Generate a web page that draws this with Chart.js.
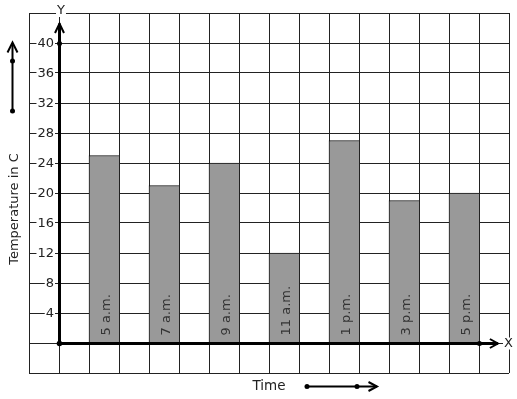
<!DOCTYPE html>
<html>
<head>
<meta charset="utf-8">
<script src="https://cdn.jsdelivr.net/npm/chart.js@4.4.1/dist/chart.umd.min.js"></script>
<style>
  html, body { margin: 0; padding: 0; background: #fff; }
  #wrap { width: 517px; height: 399px; }
</style>
</head>
<body>
<div id="wrap"><canvas id="c" width="517" height="399"></canvas></div>
<script>
// ---- data ----
const categories = ['5 a.m.', '7 a.m.', '9 a.m.', '11 a.m.', '1 p.m.', '3 p.m.', '5 p.m.'];
const temperatures = [25, 21, 24, 12, 27, 19, 20];
const yTickLabels = [4, 8, 12, 16, 20, 24, 28, 32, 36, 40];
const xAxisTitle = 'Time';
const yAxisTitle = 'Temperature in C';

const FONT = '"DejaVu Sans", Verdana, sans-serif';
const INK = '#222';

// bars sit in every other grid column to the right of the Y axis
const barData = categories.map((c, i) => ({ x: 2 * i + 1.5, y: temperatures[i] }));

function line(ctx, pts, w) {
  ctx.beginPath();
  ctx.lineWidth = w;
  ctx.moveTo(pts[0][0], pts[0][1]);
  for (let k = 1; k < pts.length; k++) ctx.lineTo(pts[k][0], pts[k][1]);
  ctx.stroke();
}
function dot(ctx, x, y, r) {
  ctx.beginPath();
  ctx.arc(x, y, r, 0, Math.PI * 2);
  ctx.fill();
}
function boxedText(ctx, txt, x, y, align) {
  ctx.textAlign = align;
  ctx.textBaseline = 'middle';
  const w = ctx.measureText(txt).width;
  let left = align === 'right' ? x - w : (align === 'center' ? x - w / 2 : x);
  ctx.fillStyle = '#fff';
  ctx.fillRect(left - 1, y - 6, w + 2, 12);
  ctx.fillStyle = INK;
  ctx.fillText(txt, x, y);
}

const decor = {
  id: 'decor',
  afterDatasetsDraw(chart) {
    const ctx = chart.ctx;
    const xs = chart.scales.x, ys = chart.scales.y;
    const ox = Math.round(xs.getPixelForValue(0)) + 0.5;
    const oy = Math.round(ys.getPixelForValue(0)) + 0.5;
    const area = chart.chartArea;
    ctx.save();
    ctx.strokeStyle = '#000';
    ctx.fillStyle = '#000';
    ctx.lineCap = 'butt';
    ctx.lineJoin = 'miter';

    // bar labels (rotated, inside the bars)
    ctx.font = '13px ' + FONT;
    ctx.fillStyle = '#333';
    chart.getDatasetMeta(0).data.forEach((el, i) => {
      ctx.save();
      ctx.translate(el.x + 5.5, oy - 8);
      ctx.rotate(-Math.PI / 2);
      ctx.textAlign = 'left';
      ctx.textBaseline = 'alphabetic';
      ctx.fillText(categories[i], 0, 0);
      ctx.restore();
    });

    // Y tick labels with white backing
    ctx.font = '13px ' + FONT;
    yTickLabels.forEach(v => {
      const py = ys.getPixelForValue(v);
      boxedText(ctx, String(v), ox - 5.5, py + 0.5, 'right');
    });

    // axes
    ctx.strokeStyle = '#000';
    ctx.fillStyle = '#000';
    const yTop = ys.getPixelForValue(42.6);
    line(ctx, [[ox, oy], [ox, yTop]], 3);
    line(ctx, [[ox - 4.5, yTop + 9.5], [ox, yTop], [ox + 4.5, yTop + 9.5]], 2);
    const xEnd = xs.getPixelForValue(14.63);
    line(ctx, [[ox, oy], [xEnd, oy]], 3);
    line(ctx, [[xEnd - 8, oy - 4.5], [xEnd, oy], [xEnd - 8, oy + 4.5]], 2);
    dot(ctx, ox, oy, 2.8);
    dot(ctx, ox, ys.getPixelForValue(40) + 0.5, 2.5);
    dot(ctx, xs.getPixelForValue(14) + 0.5, oy, 2.5);

    // axis letters
    ctx.font = '13px ' + FONT;
    boxedText(ctx, 'Y', ox + 1.5, area.top - 2, 'center');
    boxedText(ctx, 'X', area.right - 5, oy, 'left');

    // axis titles
    ctx.fillStyle = INK;
    ctx.font = '13px ' + FONT;
    ctx.save();
    ctx.translate(17.5, (area.top + area.bottom) / 2 + 16);
    ctx.rotate(-Math.PI / 2);
    ctx.textAlign = 'center';
    ctx.textBaseline = 'alphabetic';
    ctx.fillText(yAxisTitle, 0, 0);
    ctx.restore();

    ctx.textAlign = 'center';
    ctx.textBaseline = 'alphabetic';
    ctx.font = '13.5px ' + FONT;
    ctx.fillText(xAxisTitle, 269, 390);

    // decorative direction arrows
    ctx.strokeStyle = '#000';
    ctx.fillStyle = '#000';
    line(ctx, [[12.5, 111], [12.5, 43]], 2);
    line(ctx, [[7.5, 52.5], [12.5, 42.5], [17.5, 52.5]], 2);
    dot(ctx, 12.5, 61, 2.5);
    dot(ctx, 12.5, 111, 2.5);

    line(ctx, [[307, 386.5], [377, 386.5]], 2);
    line(ctx, [[368.5, 382], [377, 386.5], [368.5, 391]], 2);
    dot(ctx, 307, 386.5, 2.5);
    dot(ctx, 357, 386.5, 2.5);

    ctx.restore();
  }
};

new Chart(document.getElementById('c'), {
  type: 'bar',
  data: {
    datasets: [{
      data: barData,
      backgroundColor: '#999999',
      borderColor: '#111',
      borderWidth: { top: 1, left: 1, right: 0, bottom: 0 },
      borderSkipped: 'bottom',
      categoryPercentage: 1.0,
      barPercentage: 1.0
    }]
  },
  options: {
    responsive: false,
    animation: false,
    events: [],
    layout: { autoPadding: false, padding: { left: 29, right: 8, top: 13, bottom: 26 } },
    plugins: { legend: { display: false }, tooltip: { enabled: false } },
    scales: {
      x: {
        type: 'linear',
        min: -1, max: 15,
        offset: false,
        ticks: { display: false, stepSize: 1 },
        grid: { color: INK, lineWidth: 1, drawTicks: false, offset: false },
        border: { display: false },
        afterFit(s) { s.height = 0; }
      },
      y: {
        type: 'linear',
        min: -4, max: 44,
        beginAtZero: false,
        ticks: { display: false, stepSize: 4 },
        grid: { color: INK, lineWidth: 1, drawTicks: false },
        border: { display: false },
        afterFit(s) { s.width = 0; }
      }
    }
  },
  plugins: [decor]
});
</script>
</body>
</html>
